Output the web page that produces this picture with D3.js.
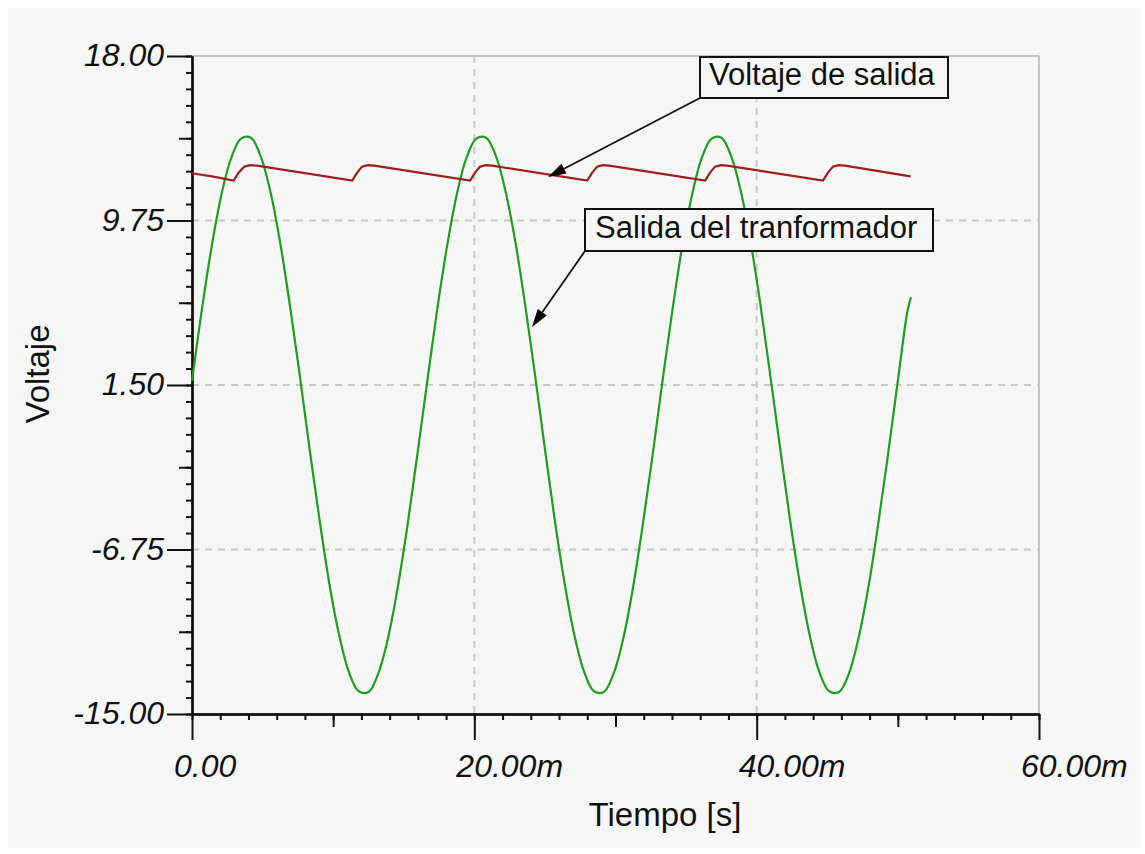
<!DOCTYPE html>
<html>
<head>
<meta charset="utf-8">
<script src="https://cdn.jsdelivr.net/npm/d3@7"></script>
<style>
  html, body { margin: 0; padding: 0; background: #ffffff; }
  svg { display: block; }
  text { font-family: "Liberation Sans", Arial, sans-serif; fill: #111; }
</style>
</head>
<body>
<svg id="chart" width="1145" height="854"></svg>
<script>
// Time axis (milliseconds) and voltage axis
const xMajorTicks = [0, 20, 40, 60];
const xTickLabels = ["0.00", "20.00m", "40.00m", "60.00m"];
const yMajorTicks = [18, 9.75, 1.5, -6.75, -15];
const yTickLabels = ["18.00", "9.75", "1.50", "-6.75", "-15.00"];

// Transformer secondary (green), sampled in ms
const transformerTime = [
  0.00, 0.69, 1.39, 2.08, 2.78, 3.47, 4.17, 4.86, 5.56, 6.25, 6.94, 7.64,
  8.33, 9.03, 9.72, 10.42, 11.11, 11.81, 12.50, 13.19, 13.89, 14.58, 15.28, 15.97,
  16.67, 17.36, 18.06, 18.75, 19.44, 20.14, 20.83, 21.53, 22.22, 22.92, 23.61, 24.31,
  25.00, 25.69, 26.39, 27.08, 27.78, 28.47, 29.17, 29.86, 30.56, 31.25, 31.94, 32.64,
  33.33, 34.03, 34.72, 35.42, 36.11, 36.81, 37.50, 38.19, 38.89, 39.58, 40.28, 40.97,
  41.67, 42.36, 43.06, 43.75, 44.44, 45.14, 45.83, 46.53, 47.22, 47.92, 48.61, 49.31,
  50.00, 50.69, 50.93
];
const transformerVolts = [
  1.71, 5.24, 8.43, 11.03, 12.89, 13.86, 13.90, 12.98, 11.18, 8.62, 5.47, 1.95,
  -1.71, -5.24, -8.43, -11.03, -12.89, -13.86, -13.90, -12.98, -11.18, -8.62, -5.47, -1.95,
  1.71, 5.24, 8.43, 11.03, 12.89, 13.86, 13.90, 12.98, 11.18, 8.62, 5.47, 1.95,
  -1.71, -5.24, -8.43, -11.03, -12.89, -13.86, -13.90, -12.98, -11.18, -8.62, -5.47, -1.95,
  1.71, 5.24, 8.43, 11.03, 12.89, 13.86, 13.90, 12.98, 11.18, 8.62, 5.47, 1.95,
  -1.71, -5.24, -8.43, -11.03, -12.89, -13.86, -13.90, -12.98, -11.18, -8.62, -5.47, -1.95,
  1.71, 5.24, 5.90
];

// Filtered output voltage (dark red), in ms
const outputTime = [
  0, 1.4, 2.95, 3.3, 3.7, 4.1, 4.6,
  11.35, 11.7, 12.05, 12.45, 12.9,
  19.7, 20.05, 20.4, 20.8, 21.25,
  28.0, 28.35, 28.7, 29.1, 29.55,
  36.35, 36.7, 37.05, 37.45, 37.9,
  44.7, 45.05, 45.4, 45.8, 46.25,
  50.9
];
const outputVolts = [
  12.12, 11.96, 11.75, 12.15, 12.45, 12.53, 12.50,
  11.75, 12.15, 12.45, 12.53, 12.50,
  11.75, 12.15, 12.45, 12.53, 12.50,
  11.75, 12.15, 12.45, 12.53, 12.50,
  11.75, 12.15, 12.45, 12.53, 12.50,
  11.75, 12.15, 12.45, 12.53, 12.50,
  11.96
];

const svg = d3.select("#chart");

// panel background
svg.append("rect")
  .attr("x", 8).attr("y", 8).attr("width", 1133).attr("height", 840)
  .attr("fill", "#f6f6f6");

const x = d3.scaleLinear().domain([0, 60]).range([192, 1039]);
const y = d3.scaleLinear().domain([-15, 18]).range([714, 56]);

// grid: solid frame on top/right, dashed interior lines
const grid = svg.append("g");
grid.append("line")
  .attr("x1", x(0)).attr("x2", x(60)).attr("y1", y(18)).attr("y2", y(18))
  .attr("stroke", "#c4c4c4").attr("stroke-width", 2);
grid.append("line")
  .attr("x1", x(60)).attr("x2", x(60)).attr("y1", y(18)).attr("y2", y(-15))
  .attr("stroke", "#c4c4c4").attr("stroke-width", 2);
grid.selectAll("line.hgrid")
  .data(yMajorTicks.filter(v => v !== 18 && v !== -15))
  .join("line").attr("class", "hgrid")
  .attr("x1", x(0)).attr("x2", x(60))
  .attr("y1", d => y(d)).attr("y2", d => y(d))
  .attr("stroke", "#c8c8c8").attr("stroke-width", 2)
  .attr("stroke-dasharray", "7,6");
grid.selectAll("line.vgrid")
  .data(xMajorTicks.filter(v => v !== 0 && v !== 60))
  .join("line").attr("class", "vgrid")
  .attr("x1", d => x(d)).attr("x2", d => x(d))
  .attr("y1", y(18)).attr("y2", y(-15))
  .attr("stroke", "#c8c8c8").attr("stroke-width", 2)
  .attr("stroke-dasharray", "7,6");

// tick sets
const yMinor = d3.range(0, 41).map(i => -15 + i * 0.825);
const yMedium = [13.875, 5.625, -2.625, -10.875];
const xMinor = d3.range(0, 31).map(i => i * 2);
const xMedium = [10, 30, 50];

function styleAxis(g) {
  g.select(".domain").attr("stroke", "#111").attr("stroke-width", 2);
  g.selectAll(".tick line").attr("stroke", "#111").attr("stroke-width", 2);
  g.selectAll(".tick text").remove();
}

// y axis
svg.append("g").attr("transform", `translate(${x(0)},0)`)
  .call(d3.axisLeft(y).tickValues(yMinor).tickSizeInner(6).tickSizeOuter(0))
  .call(styleAxis);
svg.append("g").attr("transform", `translate(${x(0)},0)`)
  .call(d3.axisLeft(y).tickValues(yMedium).tickSizeInner(13).tickSizeOuter(0))
  .call(styleAxis);
svg.append("g").attr("transform", `translate(${x(0)},0)`)
  .call(d3.axisLeft(y).tickValues(yMajorTicks).tickSizeInner(25).tickSizeOuter(0))
  .call(styleAxis);

// x axis
svg.append("g").attr("transform", `translate(0,${y(-15)})`)
  .call(d3.axisBottom(x).tickValues(xMinor).tickSizeInner(6).tickSizeOuter(0))
  .call(styleAxis);
svg.append("g").attr("transform", `translate(0,${y(-15)})`)
  .call(d3.axisBottom(x).tickValues(xMedium).tickSizeInner(13).tickSizeOuter(0))
  .call(styleAxis);
svg.append("g").attr("transform", `translate(0,${y(-15)})`)
  .call(d3.axisBottom(x).tickValues(xMajorTicks).tickSizeInner(26).tickSizeOuter(0))
  .call(styleAxis);

// tick labels
svg.selectAll("text.ylab")
  .data(yMajorTicks)
  .join("text").attr("class", "ylab")
  .attr("x", 164).attr("y", d => y(d) + 10)
  .attr("text-anchor", "end")
  .attr("font-size", 32).attr("font-style", "italic")
  .text((d, i) => yTickLabels[i]);
svg.selectAll("text.xlab")
  .data(xMajorTicks)
  .join("text").attr("class", "xlab")
  .attr("x", d => x(d) - 18).attr("y", 777)
  .attr("text-anchor", "start")
  .attr("font-size", 32).attr("font-style", "italic")
  .text((d, i) => xTickLabels[i]);

// axis titles
svg.append("text")
  .attr("transform", "translate(49,374) rotate(-90)")
  .attr("text-anchor", "middle").attr("font-size", 33)
  .text("Voltaje");
svg.append("text")
  .attr("x", 665).attr("y", 826)
  .attr("text-anchor", "middle").attr("font-size", 33)
  .text("Tiempo [s]");

// curves
const line = d3.line().x(d => x(d[0])).y(d => y(d[1]));
const greenPts = d3.zip(transformerTime, transformerVolts);
const redPts = d3.zip(outputTime, outputVolts);

svg.append("path")
  .attr("d", line.curve(d3.curveCatmullRom)(greenPts))
  .attr("fill", "none").attr("stroke", "#1e9e1e").attr("stroke-width", 2.2);
svg.append("path")
  .attr("d", d3.line().x(d => x(d[0])).y(d => y(d[1])).curve(d3.curveLinear)(redPts))
  .attr("fill", "none").attr("stroke", "#a11c1c").attr("stroke-width", 2.2);

// annotations
const notes = [
  { text: "Voltaje de salida", box: [700, 57, 248, 41], textX: 709, textY: 85, tip: [548, 177] },
  { text: "Salida del tranformador", box: [585, 209, 348, 42], textX: 595, textY: 238, tip: [532, 327] }
];

notes.forEach(n => {
  const [bx, by, bw, bh] = n.box;
  const sx = bx, sy = by + bh;
  const [tx, ty] = n.tip;
  const ang = Math.atan2(ty - sy, tx - sx);
  const len = 18, half = 5.5;
  const baseX = tx - len * Math.cos(ang), baseY = ty - len * Math.sin(ang);
  svg.append("line")
    .attr("x1", sx).attr("y1", sy).attr("x2", baseX).attr("y2", baseY)
    .attr("stroke", "#111").attr("stroke-width", 1.8);
  svg.append("path")
    .attr("d", d3.line()([
      [tx, ty],
      [baseX + half * Math.sin(ang), baseY - half * Math.cos(ang)],
      [baseX - half * Math.sin(ang), baseY + half * Math.cos(ang)]
    ]) + "Z")
    .attr("fill", "#000");
  svg.append("rect")
    .attr("x", bx).attr("y", by).attr("width", bw).attr("height", bh)
    .attr("fill", "#f6f6f6").attr("stroke", "#111").attr("stroke-width", 2);
  svg.append("text")
    .attr("x", n.textX).attr("y", n.textY)
    .attr("font-size", 31)
    .text(n.text);
});
</script>
</body>
</html>
